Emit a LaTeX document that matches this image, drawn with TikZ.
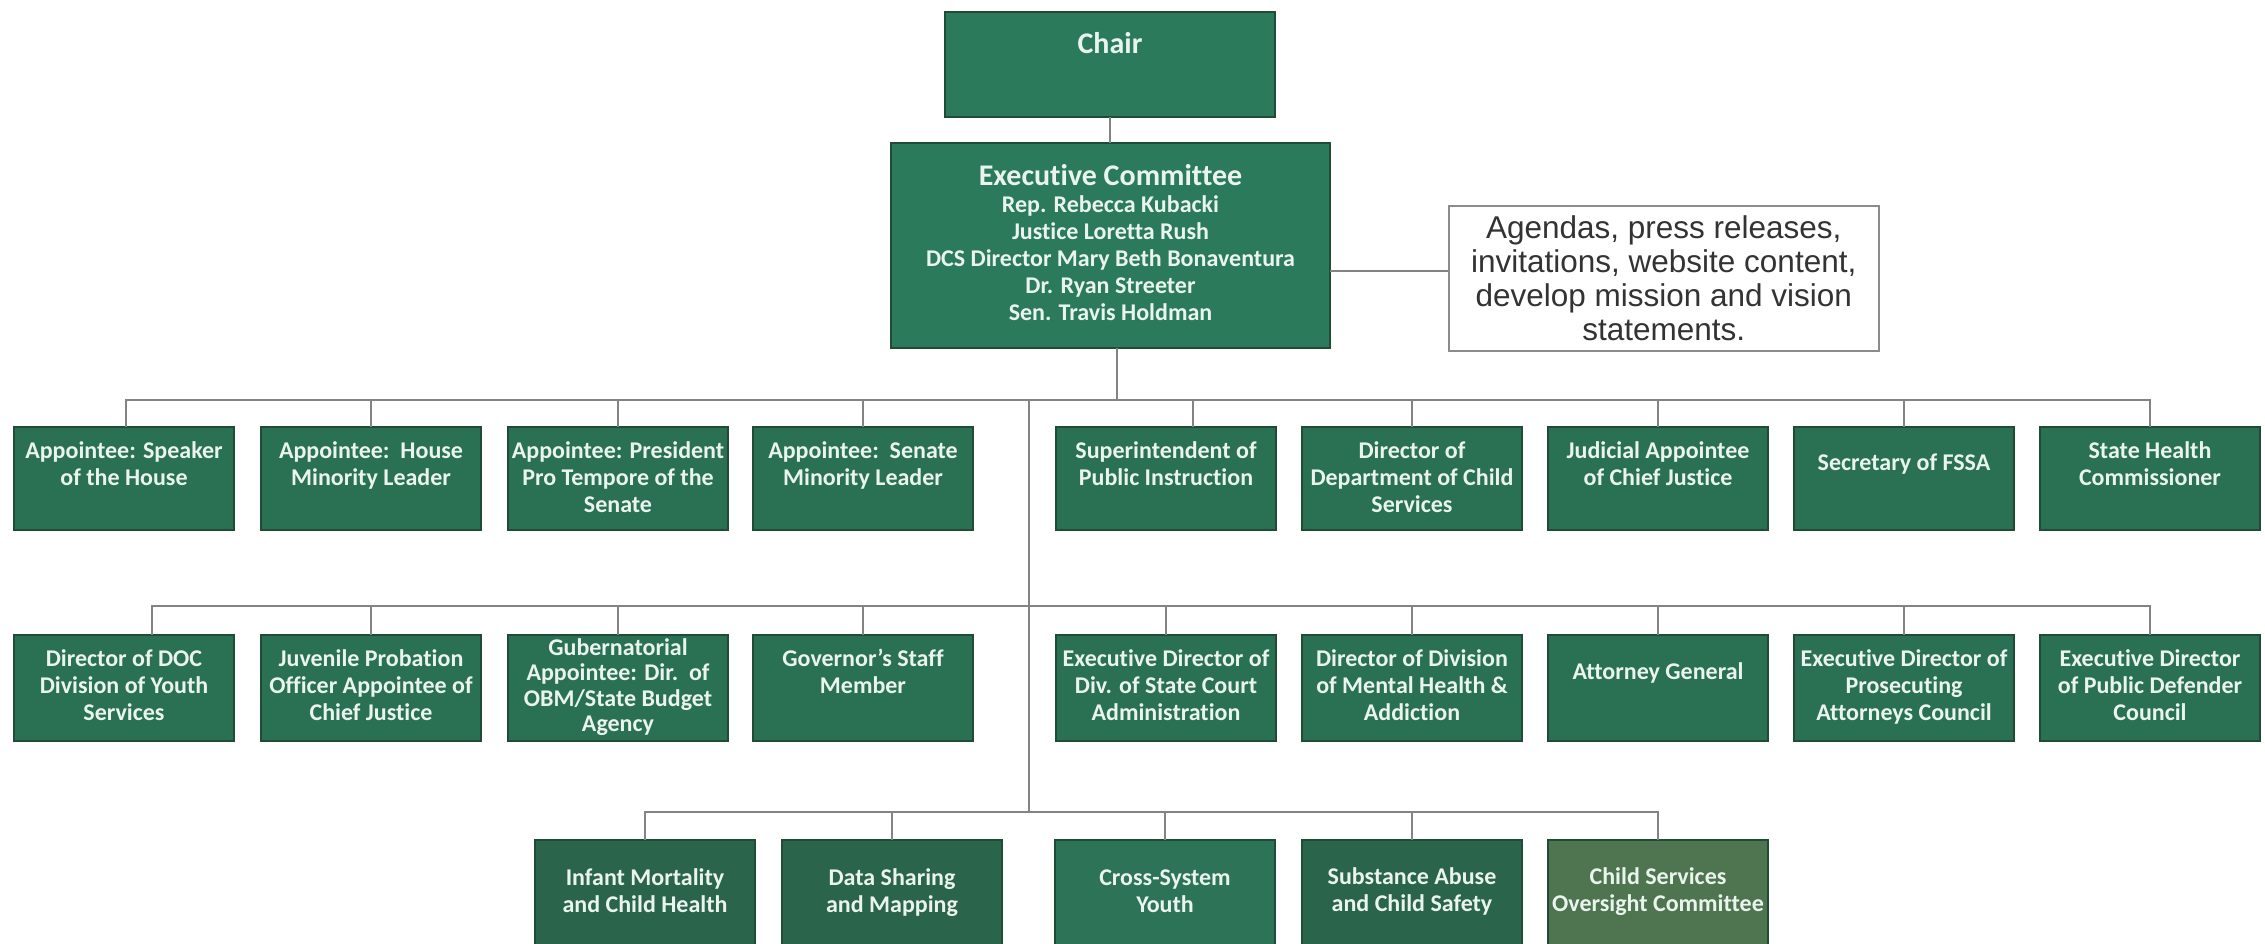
\documentclass[tikz,border=0pt]{standalone}
\usepackage{fontspec}
\setmainfont{Carlito}[Ligatures=NoCommon]
\newfontfamily\arialf{Liberation Sans}
\definecolor{gfill}{HTML}{2A7053}
\definecolor{gexec}{HTML}{2B7A5B}
\definecolor{gdark}{HTML}{2A644A}
\definecolor{gteal}{HTML}{2D7357}
\definecolor{golive}{HTML}{4F7450}
\definecolor{gborder}{HTML}{1F4B37}
\definecolor{txt}{HTML}{EAF4EE}
\definecolor{lineg}{HTML}{838383}
\definecolor{agborder}{HTML}{8C8C8C}
\definecolor{agtext}{HTML}{333333}
\newcommand{\bt}[3]{\parbox[c][#1pt][t]{220pt}{\centering\rule{0pt}{#2pt}#3}}
\tikzset{
  gbox/.style={draw=gborder, line width=1.2pt, fill=#1, inner sep=0pt, outer sep=0pt,
    anchor=north west, text=txt, font=\bfseries\fontsize{24}{27}\selectfont},
  gbox/.default=gfill,
  conn/.style={draw=lineg, line width=2pt},
}
\begin{document}
\begin{tikzpicture}[x=1pt,y=-1pt]
\useasboundingbox (0,0) rectangle (2265,943);
\clip (0,0) rectangle (2265,943);
\fill[white] (0,0) rectangle (2265,943);

% top
\node[gbox=gexec] (chair) at (945,12)
  {\parbox[c][105pt][t]{330pt}{\centering\rule{0pt}{41pt}\fontsize{30}{34}\selectfont Chair}};
\node[gbox=gexec] (exec) at (891,143)
  {\parbox[c][205pt][t]{439pt}{\centering\rule{0pt}{42pt}{\fontsize{30}{34}\selectfont Executive Committee}\\
   Rep. Rebecca Kubacki\\Justice Loretta Rush\\DCS Director Mary Beth Bonaventura\\Dr. Ryan Streeter\\Sen. Travis Holdman\par}};
\node[draw=agborder, line width=1.5pt, fill=white, minimum width=430pt, minimum height=145pt,
  inner sep=0pt, anchor=north west, align=center, text=agtext,
  font=\arialf\fontsize{31.5}{34}\selectfont] (agenda) at (1448,205)
  {Agendas, press releases,\\invitations, website content,\\develop mission and vision\\statements.};

% row 1
\node[gbox] (a1) at (14,427)   {\bt{103}{31}{Appointee: Speaker\\of the House}};
\node[gbox] (a2) at (261,427)  {\bt{103}{31}{Appointee:\ \ House\\Minority Leader}};
\node[gbox] (a3) at (508,427)  {\bt{103}{31}{Appointee: President\\Pro Tempore of the\\Senate}};
\node[gbox] (a4) at (753,427)  {\bt{103}{31}{Appointee:\ \ Senate\\Minority Leader}};
\node[gbox] (a5) at (1056,427) {\bt{103}{31}{Superintendent of\\Public Instruction}};
\node[gbox] (a6) at (1302,427) {\bt{103}{31}{Director of\\Department of Child\\Services}};
\node[gbox] (a7) at (1548,427) {\bt{103}{31}{Judicial Appointee\\of Chief Justice}};
\node[gbox] (a8) at (1794,427) {\bt{103}{43}{Secretary of FSSA}};
\node[gbox] (a9) at (2040,427) {\bt{103}{31}{State Health\\Commissioner}};

% row 2
\node[gbox] (b1) at (14,635)   {\bt{106}{31}{Director of DOC\\Division of Youth\\Services}};
\node[gbox] (b2) at (261,635)  {\bt{106}{31}{Juvenile Probation\\Officer Appointee of\\Chief Justice}};
\node[gbox] (b3) at (508,635)  {\bt{106}{20}{\fontsize{24}{25.5}\selectfont Gubernatorial\\Appointee: Dir.\ \ of\\OBM/State Budget\\Agency\par}};
\node[gbox] (b4) at (753,635)  {\bt{106}{31}{Governor’s Staff\\Member}};
\node[gbox] (b5) at (1056,635) {\bt{106}{31}{Executive Director of\\Div. of State Court\\Administration}};
\node[gbox] (b6) at (1302,635) {\bt{106}{31}{Director of Division\\of Mental Health \&\\Addiction}};
\node[gbox] (b7) at (1548,635) {\bt{106}{44}{Attorney General}};
\node[gbox] (b8) at (1794,635) {\bt{106}{31}{Executive Director of\\Prosecuting\\Attorneys Council}};
\node[gbox] (b9) at (2040,635) {\bt{106}{31}{Executive Director\\of Public Defender\\Council}};

% row 3
\node[gbox=gdark]  (c1) at (535,840)  {\bt{112}{45}{Infant Mortality\\and Child Health}};
\node[gbox=gdark]  (c2) at (782,840)  {\bt{112}{45}{Data Sharing\\and Mapping}};
\node[gbox=gteal]  (c3) at (1055,840) {\bt{112}{45}{Cross-System\\Youth}};
\node[gbox=gdark]  (c4) at (1302,840) {\bt{112}{44}{Substance Abuse\\and Child Safety}};
\node[gbox=golive] (c5) at (1548,840) {\bt{112}{44}{Child Services\\Oversight Committee}};

% junction coordinates
\coordinate (t1) at (1117,400);
\coordinate (j1) at (1029,400);
\coordinate (j2) at (1029,606);
\coordinate (j3) at (1029,812);

% connectors
\draw[conn] (chair.south) -- (chair.south |- exec.north);
\draw[conn] ([yshift=-25.5pt]exec.east) coordinate (e1) -- (e1 -| agenda.west);
\draw[conn] (exec.south -| t1) -- (t1);

\draw[conn] ([xshift=2pt]a1.north) |- (t1) -| (a9.north);
\foreach \n in {a2,a3,a4,a6,a7,a8} \draw[conn] (\n.north) -- (\n.north |- t1);
\draw[conn] ([xshift=26.5pt]a5.north) coordinate (s5) -- (s5 |- t1);

\draw[conn] (j1) -- (j3);

\draw[conn] ([xshift=27.5pt]b1.north) |- (j2) -| (b9.north);
\foreach \n in {b2,b3,b4,b5,b6,b7,b8} \draw[conn] (\n.north) -- (\n.north |- j2);

\draw[conn] (c1.north) |- (j3) -| (c5.north);
\foreach \n in {c2,c3,c4} \draw[conn] (\n.north) -- (\n.north |- j3);
\end{tikzpicture}
\end{document}
